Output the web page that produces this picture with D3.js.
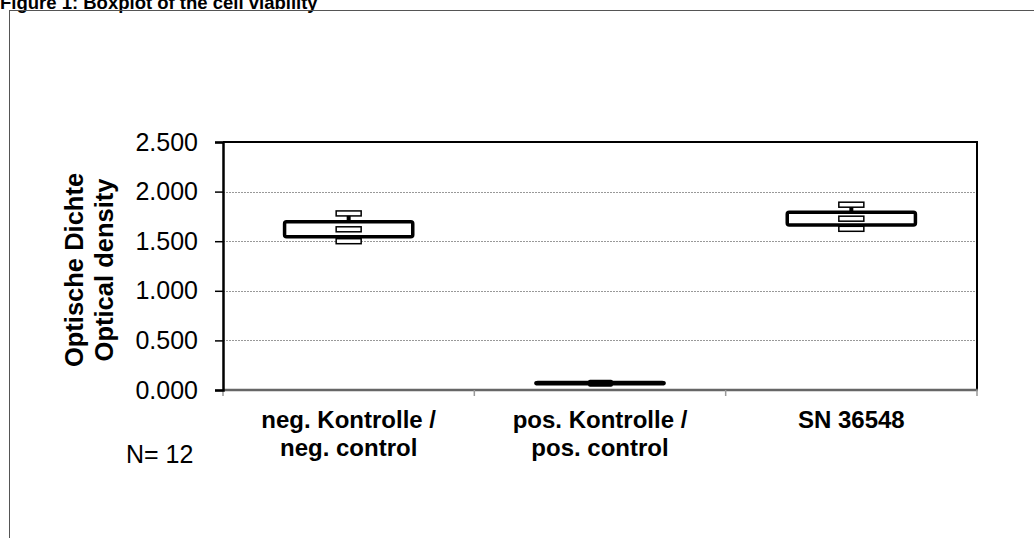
<!DOCTYPE html>
<html>
<head>
<meta charset="utf-8">
<script src="https://cdn.jsdelivr.net/npm/d3@7"></script>
<style>
  body { margin: 0; background: #fff; }
  text { font-family: "Liberation Sans", Arial, sans-serif; }
</style>
</head>
<body>
<div id="chart"></div>
<script>
// data
var categories = [["neg. Kontrolle /", "neg. control"], ["pos. Kontrolle /", "pos. control"], ["SN 36548"]];
var whiskerLow = [1.50, 0.062, 1.625];
var boxLow     = [1.545, 0.062, 1.663];
var medians    = [1.62, 0.068, 1.727];
var boxHigh    = [1.697, 0.075, 1.791];
var whiskerHigh= [1.78, 0.075, 1.868];
var yTicks = [0, 0.5, 1.0, 1.5, 2.0, 2.5];
var nLabel = "N= 12";
var titleText = "Figure 1: Boxplot of the cell viability";

var W = 1034, H = 538;
var plot = {left: 223, right: 977, top: 142, bottom: 390};

var svg = d3.select("#chart").append("svg").attr("width", W).attr("height", H);

// title, cut off at top edge
svg.append("text").attr("x", 0).attr("y", 9)
   .attr("font-size", 18.5).attr("font-weight", "bold").text(titleText);

// outer frame
svg.append("rect").attr("x", 9.5).attr("y", 10.5).attr("width", W + 20).attr("height", H + 20)
   .attr("fill", "none").attr("stroke", "#555").attr("stroke-width", 1);

var idx = d3.range(categories.length);
var x = d3.scaleBand().domain(idx).range([plot.left, plot.right]);
var y = d3.scaleLinear().domain([0, 2.5]).range([plot.bottom, plot.top]);

// grid lines
svg.append("g").selectAll("line").data(yTicks.filter(function(d){ return d > 0 && d < 2.5; }))
   .enter().append("line")
   .attr("x1", plot.left).attr("x2", plot.right)
   .attr("y1", function(d){ return Math.round(y(d)) + 0.5; })
   .attr("y2", function(d){ return Math.round(y(d)) + 0.5; })
   .attr("stroke", "#999").attr("stroke-dasharray", "2,1").attr("stroke-width", 1);

// plot border top/right
svg.append("path")
   .attr("d", "M" + plot.left + "," + plot.top + "H" + plot.right + "V" + plot.bottom)
   .attr("fill", "none").attr("stroke", "#000").attr("stroke-width", 2);

// x axis (gray) with category ticks
svg.append("line").attr("x1", plot.left).attr("x2", plot.right + 1)
   .attr("y1", plot.bottom).attr("y2", plot.bottom)
   .attr("stroke", "#666").attr("stroke-width", 2.5);
var bounds = idx.map(function(i){ return x(i); }).concat([plot.right]);
svg.append("g").selectAll("line").data(bounds).enter().append("line")
   .attr("x1", function(d){ return d; }).attr("x2", function(d){ return d; })
   .attr("y1", plot.bottom).attr("y2", plot.bottom + 6)
   .attr("stroke", "#999").attr("stroke-width", 1.5);

// y axis
var yAxis = d3.axisLeft(y).tickValues(yTicks).tickFormat(d3.format(".3f")).tickSize(8).tickPadding(17);
var gy = svg.append("g").attr("transform", "translate(" + plot.left + ",0)").call(yAxis);
gy.select(".domain").attr("stroke", "#000").attr("stroke-width", 2.5);
gy.selectAll(".tick line").attr("stroke", "#000").attr("stroke-width", 1.5);
gy.selectAll(".tick text").attr("font-size", 25).attr("fill", "#000")
   .attr("font-family", "'Liberation Sans', Arial, sans-serif");

// y title
var yt = svg.append("text").attr("transform", "translate(83,270) rotate(-90)")
   .attr("text-anchor", "middle").attr("font-size", 25.5).attr("font-weight", "bold");
yt.append("tspan").attr("x", 0).attr("dy", 0).text("Optische Dichte");
yt.append("tspan").attr("x", 0).attr("dy", 30).text("Optical density");

// boxes
var boxW = x.bandwidth() * 0.51, capW = 25, capH = 5;
var gb = svg.append("g");
idx.forEach(function(i){
   var cx = x(i) + x.bandwidth() / 2;
   // whiskers
   gb.append("line").attr("x1", cx).attr("x2", cx)
     .attr("y1", y(whiskerHigh[i])).attr("y2", y(boxHigh[i]))
     .attr("stroke", "#000").attr("stroke-width", 4);
   gb.append("line").attr("x1", cx).attr("x2", cx)
     .attr("y1", y(boxLow[i])).attr("y2", y(whiskerLow[i]))
     .attr("stroke", "#000").attr("stroke-width", 4);
   // box
   var h = y(boxLow[i]) - y(boxHigh[i]);
   gb.append("rect").attr("x", cx - boxW / 2).attr("y", y(boxHigh[i]))
     .attr("width", boxW).attr("height", Math.max(h, 0.5))
     .attr("rx", 2).attr("fill", "#fff").attr("stroke", "#000").attr("stroke-width", 3.5);
   // caps and median
   if (h > 3) {
     [whiskerHigh[i], medians[i], whiskerLow[i]].forEach(function(v){
        gb.append("rect").attr("x", cx - capW / 2).attr("y", y(v) - capH / 2)
          .attr("width", capW).attr("height", capH)
          .attr("fill", "#fff").attr("stroke", "#000").attr("stroke-width", 1.5);
     });
   } else {
     gb.append("rect").attr("x", cx - capW / 2 + 0.5).attr("y", y(medians[i]) - 3.5)
       .attr("width", capW).attr("height", 7).attr("rx", 2).attr("fill", "#000");
   }
});

// category labels
idx.forEach(function(i){
   var cx = x(i) + x.bandwidth() / 2;
   var t = svg.append("text").attr("x", cx).attr("y", 428)
      .attr("text-anchor", "middle").attr("font-size", 24).attr("font-weight", "bold");
   categories[i].forEach(function(line, k){
      t.append("tspan").attr("x", cx).attr("dy", k === 0 ? 0 : 28).text(line);
   });
});

svg.append("text").attr("x", 126).attr("y", 463).attr("font-size", 25).text(nLabel);
</script>
</body>
</html>
